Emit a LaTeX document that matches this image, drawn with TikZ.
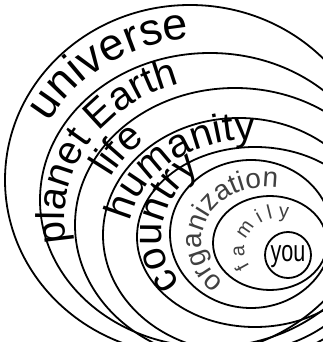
\documentclass[tikz,border=0pt]{standalone}
\usepackage{fontspec}
\setmainfont{Liberation Sans}
\usepackage{graphicx}
\usetikzlibrary{decorations.text}

\tikzset{
  ring/.style={line width=1.8pt},
  ringtext/.style={decorate, decoration={text along path, text align=center, text={#1}}}
}
\newcommand{\hugefont}{\fontsize{45}{45}\selectfont}
\newcommand{\bigfont}{\fontsize{40}{40}\selectfont}
\newcommand{\midfont}{\fontsize{28}{28}\selectfont}
\newcommand{\smallfont}{\fontsize{20}{20}\selectfont}

\begin{document}
\begin{tikzpicture}[x=1pt, y=1pt]
  \useasboundingbox (0,0) rectangle (323,342);
  \begin{scope}
    \clip (0,0) rectangle (323,342);
    \draw[ring] (190,162) ellipse [x radius=185pt, y radius=175pt];
    \draw[ring] (210,142) ellipse [x radius=170pt, y radius=147pt];
    \draw[ring] (235,117) ellipse [x radius=160pt, y radius=137pt];
    \draw[ring] (239,107) ellipse [x radius=136pt, y radius=117pt];
    \draw[ring] (255,105) ellipse [x radius=118pt, y radius=90pt];
    \draw[ring] (251,108) ellipse [x radius=81pt, y radius=74pt];
    \draw[ring] (270,99) ellipse [x radius=57pt, y radius=47pt];
  \end{scope}
  \node[draw, circle, line width=1.8pt, minimum size=46pt, inner sep=0pt] (you) at (288,87) {};
  \node[font=\fontsize{30}{30}\selectfont, yshift=-2pt] (youtext) at (you) {\scalebox{0.72}[1]{you}};

  \path[ringtext={|\hugefont|universe}] (204,148) ++(180:174.5pt and 155.6pt)
    arc[start angle=180, end angle=70, x radius=174.5pt, y radius=155.6pt];
  \path[ringtext={|\bigfont|planet Earth}] (227.5,124.5) ++(205:163pt and 140pt)
    arc[start angle=205, end angle=94, x radius=163pt, y radius=140pt];
  \path[ringtext={|\bigfont|life}] (238,109.5) ++(194.5:142pt and 122pt)
    arc[start angle=194.5, end angle=94.5, x radius=142pt, y radius=122pt];
  \path[ringtext={|\bigfont|humanity}] (251,105.5) ++(186:122.5pt and 96.75pt)
    arc[start angle=186, end angle=76, x radius=122.5pt, y radius=96.75pt];
  \path[ringtext={|\bigfont|country}] (252,107) ++(226.5:90pt and 78pt)
    arc[start angle=226.5, end angle=116.5, x radius=90pt, y radius=78pt];
  \path[ringtext={|\midfont\color{black!75}|organization}] (265,101) ++(254:63pt and 53.75pt)
    arc[start angle=254, end angle=54, x radius=63pt, y radius=53.75pt];
  \path[ringtext={|\smallfont\color{black!75}|f a m i l y}] (281,92) ++(235:36.6pt and 32.6pt)
    arc[start angle=235, end angle=55, x radius=36.6pt, y radius=32.6pt];
\end{tikzpicture}
\end{document}
